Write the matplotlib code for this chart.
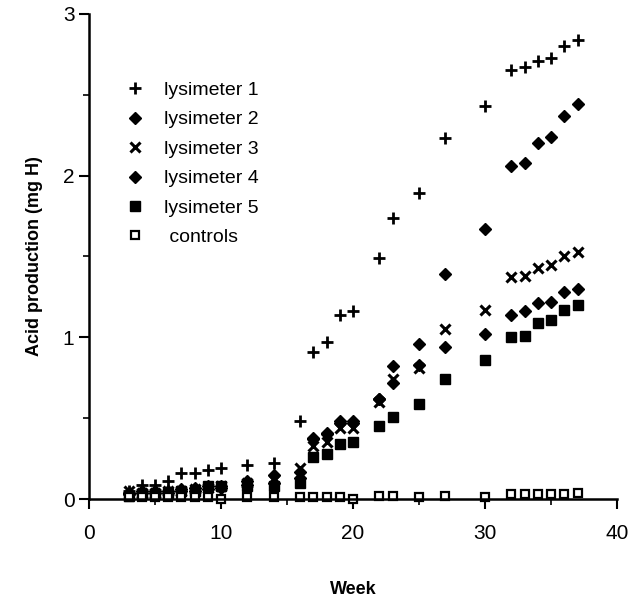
import numpy as np
import matplotlib.pyplot as plt
from matplotlib.ticker import MultipleLocator

plt.rcParams['font.family'] = ['Liberation Sans', 'DejaVu Sans']

weeks = [3, 4, 5, 6, 7, 8, 9, 10, 12, 14, 16, 17, 18, 19, 20, 22, 23, 25, 27, 30,
         32, 33, 34, 35, 36, 37]

lys1 = [0.05, 0.09, 0.09, 0.11, 0.16, 0.16, 0.18, 0.19, 0.21, 0.22, 0.48, 0.91, 0.97,
        1.14, 1.16, 1.49, 1.74, 1.89, 2.23, 2.43, 2.65, 2.67, 2.71, 2.73, 2.80, 2.84]
lys2 = [0.04, 0.05, 0.05, 0.05, 0.06, 0.07, 0.08, 0.08, 0.11, 0.15, 0.17, 0.38, 0.41,
        0.48, 0.48, 0.62, 0.82, 0.96, 1.39, 1.67, 2.06, 2.08, 2.20, 2.24, 2.37, 2.44]
lys3 = [0.05, 0.04, 0.04, 0.05, 0.05, 0.06, 0.07, 0.08, 0.10, 0.12, 0.19, 0.33, 0.35,
        0.44, 0.44, 0.60, 0.74, 0.81, 1.05, 1.17, 1.37, 1.38, 1.43, 1.45, 1.50, 1.53]
lys4 = [0.03, 0.04, 0.04, 0.04, 0.05, 0.05, 0.06, 0.07, 0.09, 0.10, 0.13, 0.37, 0.40,
        0.47, 0.47, 0.62, 0.72, 0.83, 0.94, 1.02, 1.14, 1.16, 1.21, 1.22, 1.28, 1.30]
lys5 = [0.02, 0.03, 0.03, 0.04, 0.05, 0.05, 0.08, 0.08, 0.08, 0.08, 0.10, 0.26, 0.28,
        0.34, 0.35, 0.45, 0.51, 0.59, 0.74, 0.86, 1.00, 1.01, 1.09, 1.11, 1.17, 1.20]
controls = [0.01, 0.01, 0.01, 0.01, 0.01, 0.01, 0.01, 0.00, 0.01, 0.01, 0.01, 0.01, 0.01,
            0.01, 0.00, 0.02, 0.02, 0.01, 0.02, 0.01, 0.03, 0.03, 0.03, 0.03, 0.03, 0.04]

fig = plt.figure(figsize=(6.31, 6.02), dpi=100)
ax = fig.add_axes([0.141, 0.171, 0.837, 0.806])

kw = dict(linestyle='none', color='black', clip_on=False)
ax.plot(weeks, lys1, marker='+', ms=9, mew=2, label='lysimeter 1', **kw)
ax.plot(weeks, lys2, marker='D', ms=6.5, label='lysimeter 2', **kw)
ax.plot(weeks, lys3, marker='x', ms=7, mew=2.2, label='lysimeter 3', **kw)
ax.plot(weeks, lys4, marker='D', ms=6.5, label='lysimeter 4', **kw)
ax.plot(weeks, lys5, marker='s', ms=7, label='lysimeter 5', **kw)
ax.plot(weeks, controls, marker='s', ms=6, mew=1.6, mfc='white', label=' controls', **kw)

ax.set_xlim(0, 40)
ax.set_ylim(0, 3)
ax.spines['top'].set_visible(False)
ax.spines['right'].set_visible(False)
ax.spines['left'].set_linewidth(1.8)
ax.spines['bottom'].set_linewidth(1.8)
ax.xaxis.set_major_locator(MultipleLocator(10))
ax.xaxis.set_minor_locator(MultipleLocator(5))
ax.yaxis.set_major_locator(MultipleLocator(1))
ax.yaxis.set_minor_locator(MultipleLocator(0.5))
ax.tick_params(which='major', direction='out', length=7, width=1.5, labelsize=15)
ax.tick_params(which='minor', direction='out', length=4, width=1.2)
ax.tick_params(axis='x', pad=11)

ax.set_xlabel('Week', fontsize=13, fontweight='bold', labelpad=27)
ax.set_ylabel('Acid production (mg H)', fontsize=13, fontweight='bold', labelpad=14)

ax.legend(loc='upper left', bbox_to_anchor=(0.05, 0.877), frameon=False,
          fontsize=14, labelspacing=0.61, handletextpad=0.9, handlelength=1.2,
          borderaxespad=0)

fig.savefig('out.png', dpi=100)
